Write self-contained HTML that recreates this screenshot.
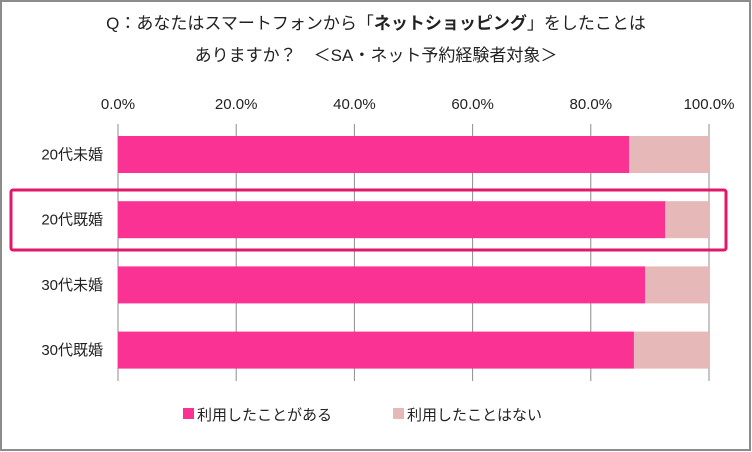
<!DOCTYPE html>
<html><head><meta charset="utf-8"><style>
body{margin:0;background:#fff;}
#c{position:relative;width:752px;height:452px;overflow:hidden;font-family:"Liberation Sans","Noto Sans CJK JP",sans-serif;}
</style></head><body>
<div id="c">
<svg id="s" width="752" height="452" xmlns="http://www.w3.org/2000/svg">
<rect x="1" y="1" width="749" height="449" fill="#fff" stroke="#8c8c8c" stroke-width="2"/>
<text x="376" y="29" font-size="17" text-anchor="middle" fill="#222">Q：あなたはスマートフォンから「<tspan font-weight="bold">ネットショッピング</tspan>」をしたことは</text>
<text x="376" y="61" font-size="17" text-anchor="middle" fill="#222">ありますか？　＜SA・ネット予約経験者対象＞</text>
<g id="grid"></g><g id="bars"></g>
<rect x="11" y="190" width="715" height="60" fill="none" stroke="#e0186a" stroke-width="3" rx="2"/>
<rect x="183" y="408" width="11" height="11" fill="#f93293"/>
<text x="197" y="420" font-size="15" fill="#222">利用したことがある</text>
<rect x="393" y="408" width="11" height="11" fill="#e6b8b7"/>
<text x="407" y="420" font-size="15" fill="#222">利用したことはない</text>
</svg></div>
<script>
const categories=["20代未婚","20代既婚","30代未婚","30代既婚"];
const usedValues=[86.5,92.6,89.2,87.3];
const notUsedValues=[13.5,7.4,10.8,12.7];
const tickValues=[0,20,40,60,80,100];
const tickLabels=["0.0%","20.0%","40.0%","60.0%","80.0%","100.0%"];
const NS="http://www.w3.org/2000/svg";
const x0=118,x1=709,yTop=124,yBot=381,band=65.2,firstY=136,barH=37;
const xs=v=>x0+(x1-x0)*v/100;
const ys=i=>firstY+i*band;
function mk(t,a,p){const e=document.createElementNS(NS,t);for(const k in a)e.setAttribute(k,a[k]);p.appendChild(e);return e;}
const g=document.getElementById('grid'),b=document.getElementById('bars');
tickValues.forEach((v,i)=>{
 const l=mk('line',{x1:xs(v),x2:xs(v),y1:yTop,y2:yBot,stroke:'#8c8c8c','stroke-width':1},g);
 
 
 const t=mk('text',{x:xs(v),y:109,'font-size':15,'text-anchor':'middle',fill:'#222'},g);
 t.textContent=tickLabels[i];
 
 
});
categories.forEach((c,i)=>{
 const y=ys(i);
 const r1=mk('rect',{x:xs(0),y:y,width:xs(usedValues[i])-xs(0),height:barH,fill:'#f93293'},b);
 
 
 const r2=mk('rect',{x:xs(usedValues[i]),y:y,width:xs(usedValues[i]+notUsedValues[i])-xs(usedValues[i]),height:barH,fill:'#e6b8b7'},b);
 
 
 const t=mk('text',{x:103,y:y+barH/2+5,'font-size':15,'text-anchor':'end',fill:'#222'},b);
 t.textContent=c;
 
 
});
</script>
</body></html>
